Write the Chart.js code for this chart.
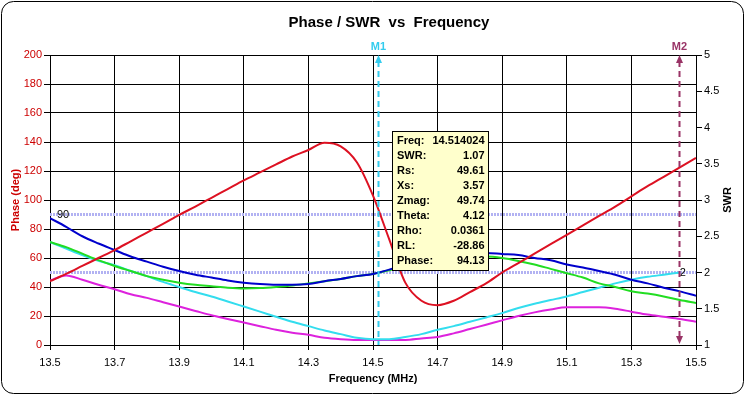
<!DOCTYPE html>
<html><head><meta charset="utf-8">
<script src="https://cdn.jsdelivr.net/npm/chart.js@4/dist/chart.umd.min.js"></script>
<style>
html,body{margin:0;padding:0;background:#fff;}
canvas{display:block;}
</style></head><body>
<canvas id="c" width="745" height="395"></canvas>
<script>
// ---- data ----
const freq = [13.5,13.55,13.6,13.65,13.7,13.75,13.8,13.85,13.9,13.95,14.0,14.05,14.1,14.15,14.2,14.25,14.3,14.35,14.4,14.45,14.5,14.55,14.6,14.65,14.7,14.75,14.8,14.85,14.9,14.95,15.0,15.05,15.1,15.15,15.2,15.25,15.3,15.35,15.4,15.45,15.5];
const phase = [44,49,54.5,60,65.5,71.5,77.5,83.5,89.7,95.5,101.5,107.5,113.5,119,124.5,130,134.5,139.5,137,126,103,73,43,30.5,27.5,30.5,36.5,42.5,50,56.5,63,69.5,76,82.5,89,95.5,102.5,109.5,116,122.5,129];
const swrBlue = [2.75,2.63,2.50,2.40,2.31,2.22,2.15,2.08,2.02,1.97,1.93,1.89,1.86,1.84,1.83,1.83,1.84,1.88,1.91,1.95,1.98,2.04,2.10,2.15,2.20,2.23,2.26,2.27,2.255,2.24,2.20,2.17,2.11,2.07,2.02,1.97,1.90,1.85,1.79,1.74,1.68];
const swrGreen = [2.42,2.35,2.26,2.17,2.09,2.02,1.95,1.90,1.86,1.83,1.81,1.79,1.78,1.785,1.80,1.82,1.85,1.88,1.91,1.95,1.98,2.03,2.08,2.13,2.17,2.20,2.22,2.22,2.20,2.16,2.11,2.05,1.99,1.93,1.85,1.80,1.74,1.71,1.67,1.62,1.58];
const swrCyan = [2.42,2.33,2.24,2.16,2.10,2.02,1.95,1.87,1.80,1.73,1.67,1.60,1.53,1.46,1.39,1.32,1.26,1.20,1.15,1.10,1.08,1.08,1.11,1.15,1.21,1.26,1.32,1.38,1.44,1.51,1.57,1.62,1.67,1.73,1.79,1.85,1.90,1.94,1.97,2.00,null];
const swrMagenta = [1.89,1.96,1.90,1.83,1.77,1.70,1.65,1.59,1.53,1.47,1.41,1.36,1.31,1.26,1.21,1.17,1.14,1.10,1.08,1.07,1.07,1.07,1.07,1.09,1.11,1.16,1.22,1.28,1.34,1.40,1.45,1.49,1.52,1.52,1.52,1.50,1.46,1.42,1.39,1.36,1.32];
const xTicks = [13.5,13.7,13.9,14.1,14.3,14.5,14.7,14.9,15.1,15.3,15.5];
const refPhase = 90;
const refSwr = 2;
const markerNames = ['M1','M2'];
const markerFreqs = [14.514024, 15.447];
const infoLabels = ['Freq:','SWR:','Rs:','Xs:','Zmag:','Theta:','Rho:','RL:','Phase:'];
const infoValues = ['14.514024','1.07','49.61','3.57','49.74','4.12','0.0361','-28.86','94.13'];
const titleText = 'Phase / SWR  vs  Frequency';

const FONT = '"Liberation Sans", Arial, sans-serif';
Chart.defaults.font.family = FONT;

function pts(ys){ return freq.map((f,i)=>({x:f, y:ys[i]})); }
function line(label, ys, color, axis){
  return {label, data:pts(ys), yAxisID:axis, borderColor:color, backgroundColor:color,
    borderWidth:2, pointRadius:0, tension:0.4, cubicInterpolationMode:'monotone', spanGaps:false, fill:false};
}
function refLine(label, v, axis){
  return {label, data:[{x:freq[0],y:v},{x:freq[freq.length-1],y:v}], yAxisID:axis,
    borderColor:'#b2b2f2', borderWidth:3, borderDash:[2,1], pointRadius:0, fill:false};
}

const markerColors = ['#33ccee','#993366'];

const overlay = {
  id:'overlay',
  afterDatasetsDraw(chart){
    const {ctx, chartArea:ca, scales} = chart;
    const x = scales.x, yP = scales.yPhase, yS = scales.ySwr;
    ctx.save();
    // reference labels
    ctx.fillStyle = '#000';
    ctx.font = '11px ' + FONT;
    ctx.textBaseline = 'middle';
    ctx.textAlign = 'left';
    ctx.fillText(String(refPhase), ca.left + 7, yP.getPixelForValue(refPhase));
    ctx.textAlign = 'center';
    ctx.fillText(String(refSwr), x.getPixelForValue(markerFreqs[1]) + 4, yS.getPixelForValue(refSwr));
    // markers
    markerNames.forEach((name,i)=>{
      const px = Math.round(x.getPixelForValue(markerFreqs[i])) + 0.5;
      const col = markerColors[i];
      ctx.strokeStyle = col; ctx.fillStyle = col;
      ctx.lineWidth = 2;
      ctx.setLineDash([6,4]);
      ctx.beginPath(); ctx.moveTo(px, ca.top + 6); ctx.lineTo(px, ca.bottom - (i===1?6:0)); ctx.stroke();
      ctx.setLineDash([]);
      // up arrow
      ctx.beginPath(); ctx.moveTo(px, ca.top); ctx.lineTo(px-3.5, ca.top+8); ctx.lineTo(px+3.5, ca.top+8); ctx.closePath(); ctx.fill();
      if (i===1){
        ctx.beginPath(); ctx.moveTo(px, ca.bottom-1); ctx.lineTo(px-3.5, ca.bottom-9); ctx.lineTo(px+3.5, ca.bottom-9); ctx.closePath(); ctx.fill();
      }
      ctx.font = 'bold 11px ' + FONT;
      ctx.textAlign = 'center'; ctx.textBaseline = 'middle';
      ctx.fillText(name, px, ca.top - 8);
    });
    // info box
    const bx = 392.5, by = 131.5, bw = 96, bh = 139;
    ctx.fillStyle = '#ffffcc';
    ctx.fillRect(bx, by, bw, bh);
    ctx.strokeStyle = '#000'; ctx.lineWidth = 1;
    ctx.strokeRect(bx, by, bw, bh);
    ctx.fillStyle = '#000';
    ctx.font = 'bold 11px ' + FONT;
    ctx.textBaseline = 'middle';
    infoLabels.forEach((lab,i)=>{
      const ty = by + 9.5 + i*15;
      ctx.textAlign = 'left'; ctx.fillText(lab, bx + 4.5, ty);
      ctx.textAlign = 'right'; ctx.fillText(infoValues[i], bx + bw - 4, ty);
    });
    ctx.restore();
  },
  afterDraw(chart){
    const {ctx, chartArea:ca} = chart;
    ctx.save();
    // title
    ctx.fillStyle = '#000';
    ctx.font = 'bold 15px ' + FONT;
    ctx.textAlign = 'center'; ctx.textBaseline = 'middle';
    ctx.fillText(titleText, 389, 22.5);
    // right axis title
    ctx.translate(728, (ca.top + ca.bottom)/2);
    ctx.rotate(-Math.PI/2);
    ctx.font = 'bold 11px ' + FONT;
    ctx.fillText('SWR', 0, 0);
    ctx.restore();
    // rounded outer border
    ctx.save();
    const l=1.5, t=1.5, r=743.5, b=393.5, rad=12;
    ctx.strokeStyle = '#000'; ctx.lineWidth = 1;
    ctx.beginPath();
    ctx.moveTo(l+rad, t); ctx.lineTo(r-rad, t); ctx.arcTo(r, t, r, t+rad, rad);
    ctx.lineTo(r, b-rad); ctx.arcTo(r, b, r-rad, b, rad);
    ctx.lineTo(l+rad, b); ctx.arcTo(l, b, l, b-rad, rad);
    ctx.lineTo(l, t+rad); ctx.arcTo(l, t, l+rad, t, rad);
    ctx.closePath(); ctx.stroke();
    ctx.restore();
  }
};

new Chart(document.getElementById('c'), {
  type:'line',
  data:{ datasets:[
    line('Phase', phase, '#dd1122', 'yPhase'),
    line('SWR A', swrBlue, '#0000cc', 'ySwr'),
    line('SWR B', swrGreen, '#22dd22', 'ySwr'),
    line('SWR C', swrCyan, '#33ddee', 'ySwr'),
    line('SWR D', swrMagenta, '#dd22dd', 'ySwr'),
    refLine('Phase 90', refPhase, 'yPhase'),
    refLine('SWR 2', refSwr, 'ySwr')
  ]},
  options:{
    responsive:false, animation:false, devicePixelRatio:1,
    layout:{padding:{top:55,left:0,right:0,bottom:0}},
    plugins:{legend:{display:false}, tooltip:{enabled:false}, title:{display:false}},
    scales:{
      x:{type:'linear', min:13.5, max:15.5,
        afterBuildTicks:s=>{ s.ticks = xTicks.map(v=>({value:v})); },
        afterFit:s=>{ s.height = 50; },
        grid:{color:'#000', tickColor:'#000', tickLength:5},
        border:{color:'#000'},
        ticks:{color:'#000', font:{size:11}, padding:6, maxRotation:0, autoSkip:false, callback:v=>Number(v).toFixed(1)},
        title:{display:true, text:'Frequency (MHz)', color:'#000', font:{size:11, weight:'bold'}, padding:{top:0,bottom:9}}
      },
      yPhase:{position:'left', min:0, max:200,
        afterFit:s=>{ s.width = 50; },
        grid:{color:'#000', tickColor:'#000', tickLength:6},
        border:{color:'#000'},
        ticks:{stepSize:20, color:'#cc0000', font:{size:11}, padding:2},
        title:{display:true, text:'Phase (deg)', color:'#cc0000', font:{size:11, weight:'bold'}, padding:{top:9.4,bottom:0}}
      },
      ySwr:{position:'right', min:1, max:5,
        afterFit:s=>{ s.width = 49; },
        grid:{drawOnChartArea:false, color:'#000', tickColor:'#000', tickLength:6},
        border:{color:'#000'},
        ticks:{stepSize:0.5, color:'#000', font:{size:11}, padding:2, callback:v=>String(Number(Number(v).toFixed(1)))}
      }
    }
  },
  plugins:[overlay]
});
</script>
</body></html>
